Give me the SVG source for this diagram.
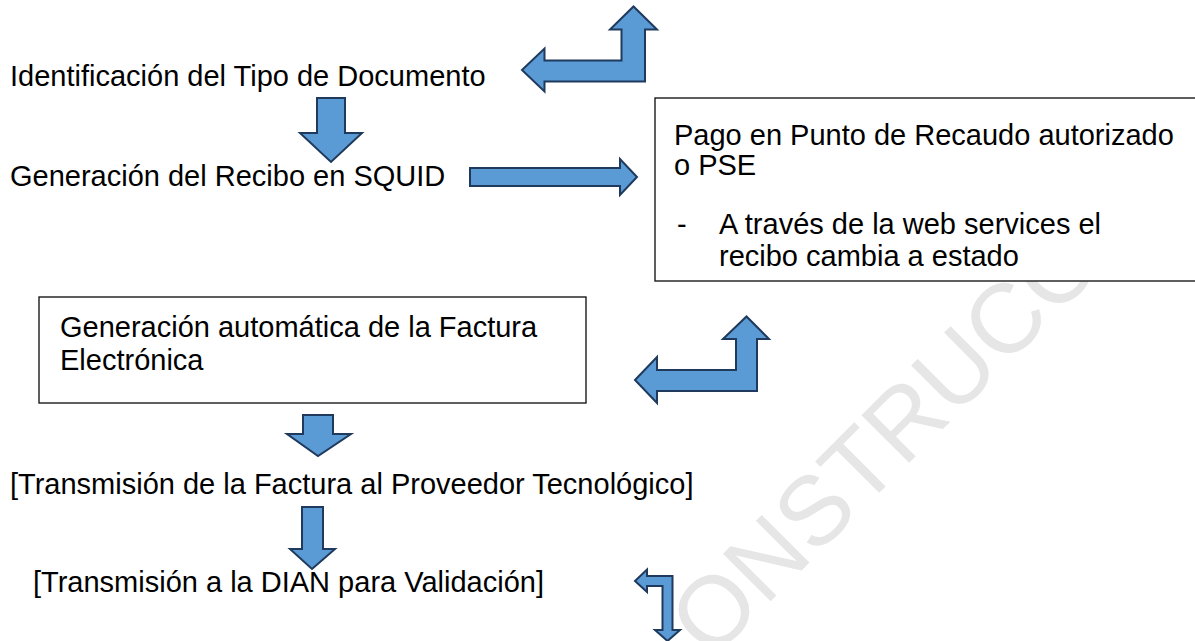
<svg xmlns="http://www.w3.org/2000/svg" width="1195" height="641" viewBox="0 0 1195 641">
<style>
.t{font-family:"Liberation Sans",Arial,sans-serif;font-size:29px;fill:#000}
.box{fill:#fff;stroke:#1a1a1a;stroke-width:1.4}
.arr{fill:#5b9bd5;stroke:#1f3a5c;stroke-width:2;stroke-linejoin:miter}
.wm{font-family:"Liberation Sans",Arial,sans-serif;font-size:98px;fill:#e6e6e6}
</style>
<rect width="1195" height="641" fill="#fff"/>
<text class="wm" transform="translate(711,661) rotate(-45)">ONSTRUCC</text>
<g id="n1"><text class="t" x="10" y="86">Identificación del Tipo de Documento</text></g>
<g id="n2"><text class="t" x="10" y="186">Generación del Recibo en SQUID</text></g>
<g id="n3">
<rect class="box" x="655" y="98" width="545" height="183"/>
<text class="t" x="674" y="145">Pago en Punto de Recaudo autorizado</text>
<text class="t" x="674" y="175">o PSE</text>
<text class="t" x="677" y="234">-</text>
<text class="t" x="719" y="234">A través de la web services el</text>
<text class="t" x="719" y="266">recibo cambia a estado</text>
</g>
<g id="n4">
<rect class="box" x="39" y="297" width="547" height="106"/>
<text class="t" x="60" y="337">Generación automática de la Factura</text>
<text class="t" x="60" y="370">Electrónica</text>
</g>
<g id="n5"><text class="t" x="10" y="494">[Transmisión de la Factura al Proveedor Tecnológico]</text></g>
<g id="n6"><text class="t" x="33" y="592">[Transmisión a la DIAN para Validación]</text></g>
<g id="connectors">
<polygon class="arr" points="522,70 544.5,48.5 544.5,60.5 621.5,60.5 621.5,29.5 610,29.5 633.5,6.5 657,29.5 645,29.5 645,81.5 544.5,81.5 544.5,91.5"/>
<polygon class="arr" points="317,98 345,98 345,133 362,133 331,162 300,133 317,133"/>
<polygon class="arr" points="470,168 620,168 620,159 637,177 620,195 620,186 470,186"/>
<polygon class="arr" points="635,380 657,357 657,370 736,370 736,339 723,339 746.5,316.5 769,339 757,339 757,391 657,391 657,403"/>
<polygon class="arr" points="303,415 333,415 333,434 351,434 318,456 287,434 303,434"/>
<polygon class="arr" points="302,507 323,507 323,549 335,549 312,569 290,549 302,549"/>
<polygon class="arr" points="635,581 647,569.5 647,576 672.5,576 672.5,630 680,630 667.5,641 655,630 662.5,630 662.5,586 647,586 647,592"/>
</g>
</svg>
